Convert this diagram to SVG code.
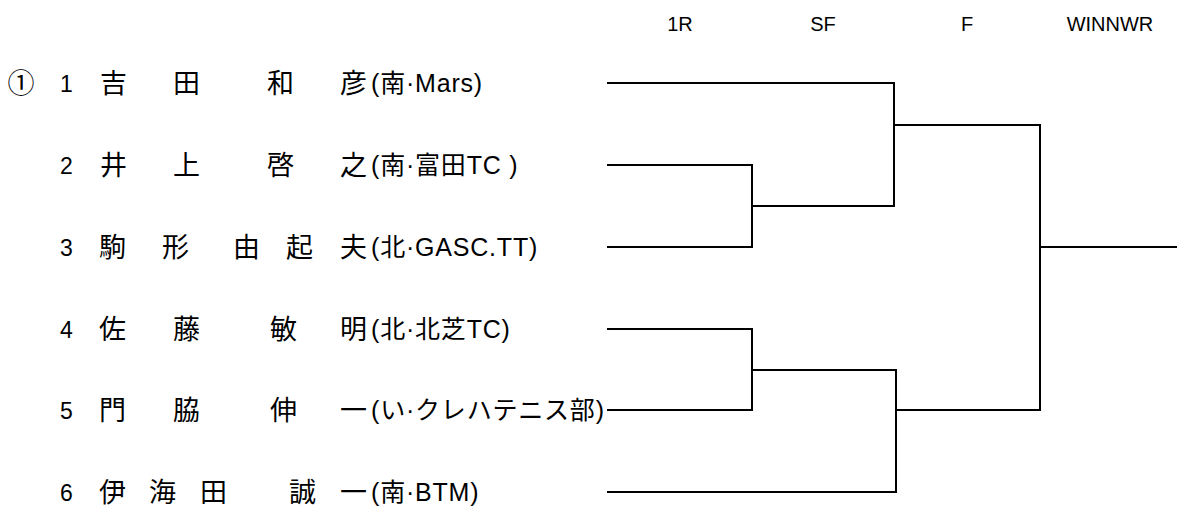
<svg xmlns="http://www.w3.org/2000/svg" width="1177" height="508" viewBox="0 0 1177 508">
<style>
.hdr{font-family:"Liberation Sans","Noto Sans CJK JP",sans-serif;font-size:20px;fill:#000;text-anchor:middle}
.seed{font-family:"Noto Sans CJK JP",sans-serif;font-size:27px;fill:#000;text-anchor:middle}
.num{font-family:"Liberation Sans",sans-serif;font-size:23px;fill:#000;text-anchor:middle}
.name{font-family:"Noto Sans CJK JP",sans-serif;font-size:27px;fill:#000}
.aff{font-family:"Liberation Sans","Noto Sans CJK JP",sans-serif;font-size:25px;fill:#000;letter-spacing:0.8px}
.ln{stroke:#000;stroke-width:2;fill:none;stroke-linecap:square}
</style>
<rect width="1177" height="508" fill="#fff"/>
<g id="headers">
<text class="hdr" x="680" y="31">1R</text>
<text class="hdr" x="823" y="31">SF</text>
<text class="hdr" x="967" y="31">F</text>
<text class="hdr" x="1110" y="31">WINNWR</text>
</g>
<g id="player1">
<text class="seed" x="21" y="93">①</text>
<text class="num" x="66.5" y="92">1</text>
<text class="name" x="100 173 267 340" y="93">吉田和彦</text>
<text class="aff" x="371" y="92">(南·Mars)</text>
</g>
<g id="player2">
<text class="num" x="66.5" y="174">2</text>
<text class="name" x="100 173 267 340" y="175">井上啓之</text>
<text class="aff" x="371" y="174">(南·富田TC )</text>
</g>
<g id="player3">
<text class="num" x="66.5" y="256">3</text>
<text class="name" x="99 162 233 286 340" y="257">駒形由起夫</text>
<text class="aff" x="371" y="256">(北·GASC.TT)</text>
</g>
<g id="player4">
<text class="num" x="66.5" y="338">4</text>
<text class="name" x="99 173 270 340" y="339">佐藤敏明</text>
<text class="aff" x="371" y="338">(北·北芝TC)</text>
</g>
<g id="player5">
<text class="num" x="66.5" y="419">5</text>
<text class="name" x="99 173 270 340" y="420">門脇伸一</text>
<text class="aff" x="371" y="419">(い·クレハテニス部)</text>
</g>
<g id="player6">
<text class="num" x="66.5" y="501">6</text>
<text class="name" x="99 149 200 289 340" y="502">伊海田誠一</text>
<text class="aff" x="371" y="501">(南·BTM)</text>
</g>
<g id="connectors" class="ln">
<path d="M608 83H894V206"/>
<path d="M608 165H752V247H608"/>
<path d="M752 206H894"/>
<path d="M894 125H1040V410"/>
<path d="M608 329H752V410H608"/>
<path d="M752 370H896V492H608"/>
<path d="M896 410H1040"/>
<path d="M1040 247H1177"/>
</g>
</svg>
